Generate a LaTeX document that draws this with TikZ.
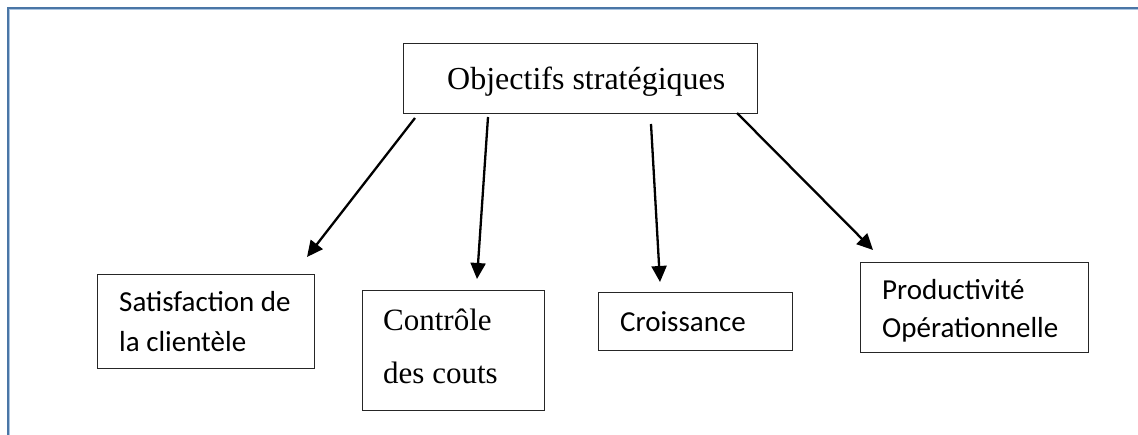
\documentclass[tikz,border=0pt]{standalone}
\usepackage{fontspec}
\setmainfont{Liberation Serif}
\newfontfamily\calfont{Carlito}
\usetikzlibrary{arrows.meta}

\definecolor{framedark}{RGB}{74,118,166}
\definecolor{framelight}{RGB}{170,196,224}

\tikzset{
  box/.style={draw=black!85, line width=1.2pt, inner sep=0pt, anchor=north west},
  serif/.style={anchor=base west, inner sep=0pt, font=\fontsize{31}{36}\selectfont},
  sans/.style={anchor=base west, inner sep=0pt, font=\calfont\fontsize{29}{34}\selectfont},
  link/.style={line width=2.3pt, -{Triangle[length=16pt,width=15pt]}}
}

\begin{document}
\begin{tikzpicture}[x=1pt, y=-1pt]
\useasboundingbox (0,0) rectangle (1138,435);

% page frame (top and left edges)
\draw[framelight, line width=1pt] (9.8,435) -- (9.8,9.8) -- (1138,9.8);
\draw[framedark, line width=2.4pt] (7.8,435) -- (7.8,7.8) -- (1138,7.8);

% boxes
\node[box, minimum width=354pt, minimum height=70pt] (top) at (403,43) {};
\node[box, minimum width=217pt, minimum height=94pt] (sat) at (97,274) {};
\node[box, minimum width=182pt, minimum height=120pt] (cout) at (362,290) {};
\node[box, minimum width=194pt, minimum height=58pt] (croi) at (598,292) {};
\node[box, minimum width=228pt, minimum height=90pt] (prod) at (860,262) {};

% labels
\node[serif, font=\fontsize{32}{36}\selectfont] (topt) at (447,90) {Objectifs stratégiques};
\node[sans] (sat1) at (119,312) {Satisfaction de};
\node[sans] (sat2) at (119,352) {la clientèle};
\node[serif] (cout1) at (383,331) {Contrôle};
\node[serif] (cout2) at (383,384) {des couts};
\node[sans] (croit) at (620,332) {Croissance};
\node[sans] (prod1) at (882,300) {Productivité};
\node[sans] (prod2) at (882,338) {Opérationnelle};

% arrow ends
\coordinate (a1s) at (415,118);
\coordinate (a1e) at (307,257);
\coordinate (a2s) at (488,117);
\coordinate (a2e) at (477,279);
\coordinate (a3s) at (651,124);
\coordinate (a3e) at (660,282);
\coordinate (a4s) at (737,113);
\coordinate (a4e) at (873,250);

\draw[link] (a1s) -- (a1e);
\draw[link] (a2s) -- (a2e);
\draw[link] (a3s) -- (a3e);
\draw[link] (a4s) -- (a4e);
\end{tikzpicture}
\end{document}
